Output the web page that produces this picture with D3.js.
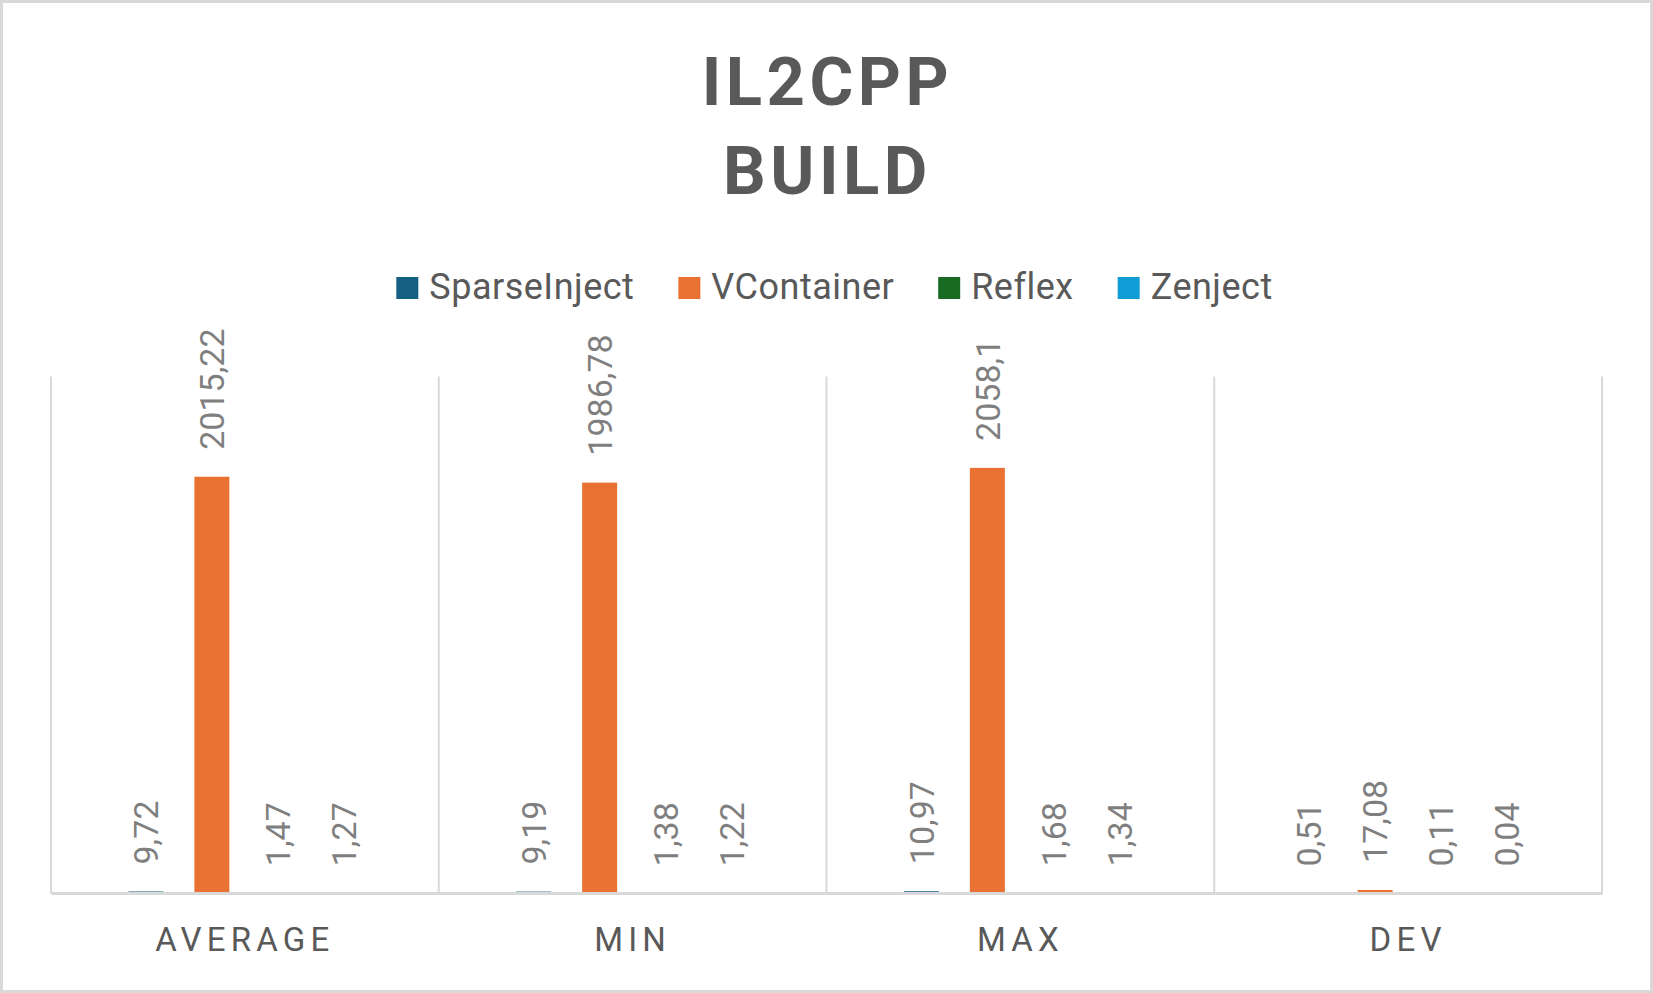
<!DOCTYPE html>
<html>
<head>
<meta charset="utf-8">
<script src="https://cdn.jsdelivr.net/npm/d3@7/dist/d3.min.js"></script>
<style>
  html, body { margin: 0; padding: 0; background: #fff; }
  svg { display: block; }
  text { font-family: Roboto, "Noto Sans", sans-serif; }
</style>
</head>
<body>
<svg id="chart" width="1653" height="993"></svg>
<script>
const categories = ["AVERAGE", "MIN", "MAX", "DEV"];
const seriesNames = ["SparseInject", "VContainer", "Reflex", "Zenject"];
const seriesColors = ["#156082", "#E97132", "#196B24", "#0F9ED5"];
const sparseInject = [9.72, 9.19, 10.97, 0.51];
const vContainer = [2015.22, 1986.78, 2058.1, 17.08];
const reflex = [1.47, 1.38, 1.68, 0.11];
const zenject = [1.27, 1.22, 1.34, 0.04];
const yDomain = [0, 2500];
const titleLines = ["IL2CPP", "BUILD"];

const seriesValues = [sparseInject, vContainer, reflex, zenject];
const W = 1653, H = 993;
const svg = d3.select("#chart");

// outer border
svg.append("rect").attr("x", 1.5).attr("y", 1.5).attr("width", W - 3).attr("height", H - 3)
  .attr("fill", "#fff").attr("stroke", "#D9D9D9").attr("stroke-width", 3);

const plot = { left: 51, right: 1602, top: 376.5, bottom: 893.5 };

const x0 = d3.scaleBand().domain(categories).range([plot.left, plot.right]).padding(0);
const x1 = d3.scaleBand().domain(seriesNames).range([0, x0.bandwidth()])
  .paddingInner(0.47).paddingOuter(1.172);
const y = d3.scaleLinear().domain(yDomain).range([plot.bottom, plot.top]);

// title
const title = svg.append("text").attr("text-anchor", "middle")
  .attr("fill", "#595959").attr("font-weight", 700).attr("font-size", 67)
  .attr("letter-spacing", 4.5);
titleLines.forEach((t, i) => {
  title.append("tspan").attr("x", (plot.left + plot.right) / 2 + 1).attr("y", 105 + i * 89).text(t);
});

// vertical category gridlines
const bounds = categories.map(c => x0(c)).concat([plot.right]);
svg.append("g").selectAll("line").data(bounds).join("line")
  .attr("x1", d => d).attr("x2", d => d)
  .attr("y1", plot.top).attr("y2", plot.bottom)
  .attr("stroke", "#D9D9D9").attr("stroke-width", 2);

// bars
const data = [];
categories.forEach((c, ci) => {
  seriesNames.forEach((s, si) => {
    data.push({ c, s, si, v: seriesValues[si][ci] });
  });
});

svg.append("g").selectAll("rect").data(data).join("rect")
  .attr("x", d => x0(d.c) + x1(d.s))
  .attr("width", x1.bandwidth())
  .attr("y", d => y(d.v))
  .attr("height", d => y(0) - y(d.v))
  .attr("fill", d => seriesColors[d.si]);

// x axis line
const xAxis = d3.axisBottom(x0).tickSize(0).tickPadding(0).tickFormat("");
const gx = svg.append("g").attr("transform", `translate(0,${plot.bottom - 0.5})`).call(xAxis);
gx.select(".domain").attr("stroke", "#D9D9D9").attr("stroke-width", 3);

// category labels
svg.append("g").selectAll("text").data(categories).join("text")
  .attr("x", d => x0(d) + x0.bandwidth() / 2)
  .attr("y", 951)
  .attr("text-anchor", "middle")
  .attr("font-size", 33)
  .attr("letter-spacing", 5.2)
  .attr("fill", "#595959")
  .text(d => d);

// data labels
const fmt = v => String(v).replace(".", ",");
svg.append("g").selectAll("text").data(data).join("text")
  .attr("transform", d => `translate(${x0(d.c) + x1(d.s) + x1.bandwidth() / 2},${y(d.v) - 27}) rotate(-90)`)
  .attr("dy", "0.36em")
  .attr("text-anchor", "start")
  .attr("font-size", 34)
  .attr("fill", "#7F7F7F")
  .text(d => fmt(d.v));

// legend
const legend = svg.append("g");
const items = legend.selectAll("g").data(seriesNames).join("g");
items.append("rect").attr("width", 22).attr("height", 22).attr("y", 277)
  .attr("fill", (d, i) => seriesColors[i]);
items.append("text").attr("x", 33).attr("y", 299).attr("font-size", 36)
  .attr("letter-spacing", 0.5).attr("fill", "#595959").text(d => d);
let cx = 0;
const positions = [];
items.each(function () {
  const w = d3.select(this).select("text").node().getComputedTextLength();
  positions.push(cx);
  cx += 33 + w + 44;
});
const totalW = cx - 44;
const startX = 834.5 - totalW / 2;
items.attr("transform", (d, i) => `translate(${startX + positions[i]},0)`);
</script>
</body>
</html>
